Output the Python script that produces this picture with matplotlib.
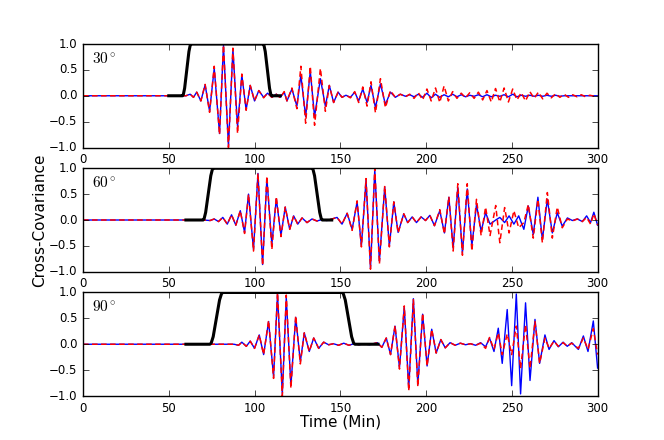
import numpy as np
import matplotlib.pyplot as plt

# ---- panel 1 (30 deg) ----
t1 = [0, 55, 60, 62.5, 64.4, 66.3, 68.7, 71.2, 73.8, 76.5, 79.6, 81.9, 84.8,
      87.4, 90.1, 92.6, 95.1, 97.5, 100.0, 102.5, 105.3, 107.6, 110.1,
      112.7, 115.0, 117.3, 118.9, 121.8, 124.7, 127.0, 129.8, 132.5, 135.0,
      138.4, 141.3, 143.6, 146.1, 148.7, 151.0, 153.3, 155.9, 158.4, 160.7,
      163.1, 165.6, 167.9, 170.5, 173.4, 176.3, 179.2, 182.1, 185.0, 188.0,
      190.5, 193, 195.5, 198, 200.5, 203, 205.5, 208, 210.5, 213,
      215.5, 218, 220.5, 223, 225.5, 228, 230.5, 233, 235.5, 238,
      240.5, 243, 245.5, 248, 250.5, 253, 255.5, 258, 260.5, 263,
      265.5, 268, 270.5, 273, 275.5, 278, 280.5, 283, 285.5, 288,
      290.5, 293, 295.5, 298, 300]
blue1 = [0, 0, 0,
         0.03, -0.03, 0.07, -0.1, 0.21, -0.3, 0.53, -0.73, 0.97, -0.97,
         0.9, -0.6, 0.4, -0.27, 0.2, -0.1, 0.1, -0.03, 0.05, -0.03,
         0.03, -0.03, 0.07, -0.1, 0.13, -0.2, 0.4, -0.4, 0.47, -0.4,
         0.33, -0.2, 0.2, -0.13, 0.07, -0.03, 0.01, -0.03, 0.07, -0.1,
         0.13, -0.13, 0.2, -0.23, 0.23, -0.17, 0.07, -0.03, 0.03, -0.01,
         0.02, -0.02, 0.03, -0.03, 0.05, -0.04, 0.03, -0.03, 0.02, -0.02,
         0.03, -0.02, 0.02, -0.02, 0.01, -0.01, 0.02, -0.02, 0.02, -0.02,
         0.01, -0.01, 0.02, -0.02, 0.03, -0.02, 0.01, -0.01, 0.01, -0.01,
         0.01, -0.01, 0.01, -0.01, 0.01, -0.01, 0.0, 0.0, 0.0, 0.0,
         0.0, 0.0, 0.0, 0.0, 0.0]
red1 = [0, 0, 0,
        0.03, -0.03, 0.07, -0.1, 0.22, -0.32, 0.57, -0.75, 0.98, -1.0,
        0.92, -0.73, 0.42, -0.28, 0.2, -0.1, 0.1, -0.04, 0.05, -0.03,
        0.03, -0.04, 0.08, -0.1, 0.15, -0.25, 0.57, -0.53, 0.57, -0.57,
        0.53, -0.3, 0.2, -0.13, 0.07, -0.03, 0.01, -0.04, 0.08, -0.13,
        0.17, -0.2, 0.27, -0.33, 0.33, -0.23, 0.1, -0.03, 0.03, -0.02,
        0.03, -0.05, 0.06, -0.08, 0.13, -0.1, 0.15, -0.13, 0.19, -0.1,
        0.08, -0.05, 0.05, -0.04, 0.06, -0.05, 0.07, -0.08, 0.1, -0.12,
        0.14, -0.12, 0.15, -0.12, 0.13, -0.08, 0.06, -0.1, 0.08, -0.05,
        0.07, -0.06, 0.05, -0.04, 0.04, -0.03, 0.03, -0.03, 0.02, -0.02,
        0.02, -0.02, 0.01, -0.01, 0.0]
win_t1 = [50, 58.0, 58.5, 59.25, 60.5, 61.75, 62.5, 63.0,
          105.0, 105.5, 106.25, 107.5, 108.75, 109.5, 110.0, 115]
win1 = [0, 0, 0.024, 0.146, 0.5, 0.854, 0.976, 1,
        1, 0.976, 0.854, 0.5, 0.146, 0.024, 0, 0]

# ---- panel 2 (60 deg) ----
t2 = [0, 65, 70, 74.1, 76.5, 79.0, 81.5, 84.1, 86.6, 89.1, 91.7, 94.2,
      96.5, 99.4, 102.0, 104.7, 107.2, 110.1, 112.7, 115.4, 117.9, 120.5,
      122.8, 125.2, 127.7, 130.6, 133.5, 136.4, 139.3, 142.2, 145.2, 148.1,
      151.0, 154.0, 156.9, 159.8, 162.3, 165.0, 167.6, 170.1, 172.8, 175.9,
      178.6, 181.2, 183.7,
      187.0, 189.3, 191.9, 194.4, 197.1, 199.7, 202.2, 204.9, 208.0, 210.7,
      213.3, 215.8, 218.5, 221.2, 224.0, 226.7, 229.4, 232.1, 234.7, 237.3,
      240.6, 243.0, 245.8, 248.4, 251.2, 254.0, 257.0, 259.6, 262.5, 265.2,
      267.8, 270.7, 273.6, 276.5, 279.4, 282.4, 285.3, 288.2, 291.1, 293.6,
      295.9, 297.8, 300]
blue2 = [0, 0, 0, -0.01, 0.02, -0.03, 0.05, -0.08, 0.1, -0.1, 0.18, -0.24,
         0.5, -0.57, 0.9, -0.86, 0.8, -0.47, 0.41, -0.3, 0.25, -0.18,
         0.08, -0.08, 0.04, -0.05, 0.02, -0.02, 0.01, -0.01, 0.02, 0.05,
         -0.08, 0.13, -0.18, 0.35, -0.5, 0.77, -0.93, 0.97, -0.8, 0.64,
         -0.5, 0.35, -0.24,
         0.12, -0.05, 0.06, -0.05, 0.06, -0.01, 0.09, -0.11, 0.18, -0.25,
         0.44, -0.54, 0.63, -0.64, 0.6, -0.5, 0.3, -0.22, 0.14, -0.08,
         0.0, 0.05, -0.05, 0.08, -0.08, 0.08, -0.18, 0.27, -0.28, 0.44,
         -0.38, 0.4, -0.25, 0.14, -0.12, 0.04, -0.01, 0.02, -0.03, 0.08,
         -0.05, 0.15, -0.1]
red2 = [0, 0, 0, -0.01, 0.02, -0.03, 0.05, -0.08, 0.1, -0.1, 0.18, -0.26,
        0.5, -0.6, 0.9, -0.88, 0.85, -0.57, 0.45, -0.32, 0.25, -0.18,
        0.08, -0.08, 0.04, -0.05, 0.02, -0.02, 0.01, -0.01, 0.02, 0.05,
        -0.08, 0.13, -0.2, 0.37, -0.52, 0.8, -0.95, 1.0, -0.85, 0.66,
        -0.52, 0.35, -0.25,
        0.12, -0.05, 0.06, -0.05, 0.06, -0.01, 0.09, -0.11, 0.2, -0.27,
        0.45, -0.6, 0.7, -0.68, 0.7, -0.6, 0.4, -0.3, 0.25, -0.3,
        0.28, -0.44, 0.24, -0.25, 0.18, -0.15, -0.05, 0.3, -0.35, 0.4,
        -0.44, 0.53, -0.35, 0.25, -0.15, 0.02, -0.02, 0.02, -0.03, 0.05,
        -0.08, 0.12, -0.1]
win_t2 = [60, 70.0, 70.6, 71.5, 73.0, 74.5, 75.4, 76.0,
          133.5, 134.1, 135.0, 136.5, 138.0, 138.9, 139.5, 145]
win2 = [0, 0, 0.024, 0.146, 0.5, 0.854, 0.976, 1,
        1, 0.976, 0.854, 0.5, 0.146, 0.024, 0, 0]

# ---- panel 3 (90 deg) ----
t3 = [0, 85, 88, 90.7, 92.6, 95.2, 97.5, 100.0, 102.75, 105.3, 108.2, 111.1,
      113.4, 116.2, 118.5, 121.2, 124.0, 126.7, 129.0, 131.9, 134.5, 137.4,
      140.3, 143.2, 146, 149, 152, 155, 158, 161, 164, 167,
      171.6, 174.2, 176.8, 179.3, 181.9, 184.5, 187.3, 189.9, 192.6, 195.2,
      198.0, 200.6, 203.3, 205.9, 208.6, 211.2, 214.0, 217.0, 220.0, 223.0,
      225.9, 228.9, 231.8, 234.7, 237.0, 239.6, 242.1, 244.4, 247.3, 249.9,
      252.6, 255.1, 258.0, 260.6, 263.5, 266.2, 269.3, 271.7, 274.6, 277.1,
      279.9, 282.3, 284.9, 288.8, 291.7, 294.4, 297.5, 300]
blue3 = [0, 0, 0, -0.02, 0.04, -0.04, 0.06, -0.08, 0.18, -0.2, 0.44, -0.63,
         0.97, -0.96, 0.9, -0.8, 0.52, -0.34, 0.22, -0.14, 0.12, -0.08,
         0.04, -0.01, 0.01, -0.02, 0.02, -0.02, 0.01, -0.01, 0.01, -0.01,
         0.03, -0.06, 0.12, -0.2, 0.35, -0.45, 0.72, -0.85, 0.88, -0.78,
         0.58, -0.42, 0.29, -0.17, 0.09, -0.07, 0.03, -0.02, 0.02, -0.01,
         0.01, -0.02, 0.03, -0.05, 0.12, -0.14, 0.31, -0.37, 0.67, -0.8,
         0.97, -0.96, 0.8, -0.7, 0.48, -0.37, 0.18, -0.1, 0.07, -0.05,
         0.04, -0.04, 0.03, -0.1, 0.16, -0.14, 0.45, -0.46]
red3 = [0, 0, 0, -0.02, 0.04, -0.04, 0.06, -0.08, 0.18, -0.2, 0.46, -0.66,
        1.0, -1.0, 0.95, -0.85, 0.55, -0.38, 0.22, -0.14, 0.12, -0.08,
        0.04, -0.01, 0.01, -0.02, 0.02, -0.02, 0.01, -0.01, 0.01, -0.01,
        0.03, -0.06, 0.12, -0.2, 0.36, -0.48, 0.74, -0.9, 0.86, -0.82,
        0.6, -0.42, 0.29, -0.17, 0.09, -0.07, 0.03, -0.02, 0.02, -0.01,
        0.01, -0.02, 0.02, -0.08, 0.13, -0.1, 0.22, -0.2, 0.2, -0.2,
        0.35, -0.47, 0.38, -0.47, 0.44, -0.37, 0.12, -0.08, 0.06, -0.04,
        0.03, -0.04, 0.02, -0.08, 0.12, -0.1, 0.3, -0.2]
win_t3 = [60, 74.0, 74.75, 75.9, 77.75, 79.6, 80.75, 81.5,
          151.0, 151.75, 152.9, 154.75, 156.6, 157.75, 158.5, 172]
win3 = [0, 0, 0.024, 0.146, 0.5, 0.854, 0.976, 1,
        1, 0.976, 0.854, 0.5, 0.146, 0.024, 0, 0]

angles = [r'$30^\circ$', r'$60^\circ$', r'$90^\circ$']
panels = [(t1, blue1, red1, win_t1, win1),
          (t2, blue2, red2, win_t2, win2),
          (t3, blue3, red3, win_t3, win3)]

plt.style.use('classic')
plt.rcParams['mathtext.fontset'] = 'cm'
plt.rcParams['xtick.labelsize'] = 8.5
plt.rcParams['ytick.labelsize'] = 8.5

fig = plt.figure(figsize=(6.64, 4.4), dpi=100, facecolor='white')
for i, (t, b, r, wt, w) in enumerate(panels):
    ax = fig.add_subplot(3, 1, i + 1)
    ax.plot(t, b, color='b', lw=1.0)
    ax.plot(t, r, color='r', ls='--', lw=1.1, dashes=(4, 2.5))
    ax.plot(wt, w, color='k', lw=2.2)
    ax.set_xlim(0, 300)
    ax.set_ylim(-1, 1)
    ax.set_yticks([-1, -0.5, 0, 0.5, 1.0])
    ax.set_xticks([0, 50, 100, 150, 200, 250, 300])
    ax.text(0.017, 0.86, angles[i], transform=ax.transAxes,
            fontsize=11, va='center', ha='left')
    if i == 2:
        ax.set_xlabel('Time (Min)', fontsize=11, labelpad=0)

fig.text(0.06, 0.5, 'Cross-Covariance', rotation=90, fontsize=11,
         va='center', ha='center')

plt.savefig('out.png', dpi=100, facecolor='white')
